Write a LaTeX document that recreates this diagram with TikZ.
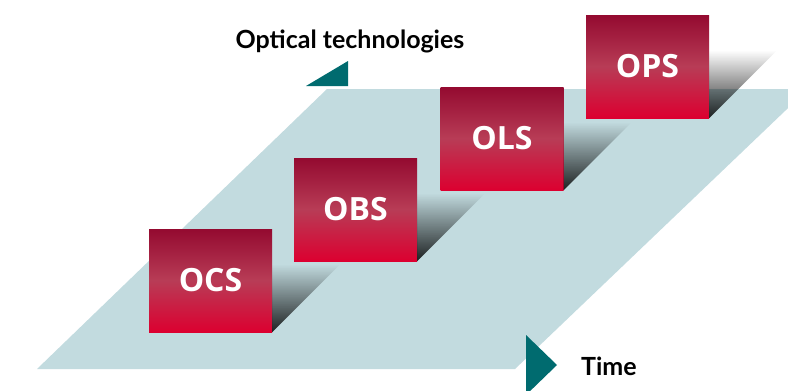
\documentclass[tikz,border=0pt]{standalone}
\usepackage{fontspec}
\setmainfont{Lato}
\newfontfamily\boxfont{Open Sans}
\usetikzlibrary{positioning, fadings}

\definecolor{planeblue}{HTML}{C2DBDF}
\definecolor{axisteal}{HTML}{006B6F}
\definecolor{boxtop}{HTML}{940A30}
\definecolor{boxmid}{HTML}{B83C56}
\definecolor{boxbottom}{HTML}{DC0030}

\tikzset{
  techbox/.style={rectangle, minimum width=123pt, minimum height=103pt, inner sep=0pt,
    top color=boxtop, bottom color=boxbottom, middle color=boxmid,
    text=white, font=\boxfont\bfseries\fontsize{32}{34}\selectfont},
  boxshadow/.style={fill=black, fill opacity=0.85, path fading=north},
  axislabel/.style={inner sep=0pt, font=\bfseries\fontsize{25}{28}\selectfont},
  axishead/.style={fill=axisteal},
}

\begin{document}
\begin{tikzpicture}[x=1pt, y=1pt]
\useasboundingbox (0,0) rectangle (788,-391);
\clip (0,0) rectangle (788,-391);

% the plane
\fill[planeblue] (37,-369) -- (515,-369) -- (808,-89) -- (327,-89) -- cycle;

% the four technologies
\node[techbox] (ocs) at (210.5,-280.5) {OCS};
\node[techbox] (obs) at (355.5,-209.5) {OBS};
\node[techbox] (ols) at (502,-138.5) {OLS};
\node[techbox] (ops) at (647.5,-66.5) {OPS};

% shadows behind them
\fill[boxshadow] (ocs.south east) -- ++(0,68) -- ++(68,0) -- cycle;
\fill[boxshadow] (obs.south east) -- ++(0,68) -- ++(68,0) -- cycle;
\fill[boxshadow] (ols.south east) -- ++(0,68) -- ++(68,0) -- cycle;
\fill[boxshadow] (ops.south east) -- ++(0,68) -- ++(68,0) -- cycle;

% axis heads
\fill[axishead] (306,-86) -- (348,-86) -- (348,-61) -- cycle;
\fill[axishead] (526,-335) -- (557,-365) -- (526,-395) -- cycle;

\node[axislabel, anchor=base] (techlabel) at (350,-48) {Optical technologies};
\node[axislabel, anchor=base west] (timelabel) at (581,-375) {Time};
\end{tikzpicture}
\end{document}
